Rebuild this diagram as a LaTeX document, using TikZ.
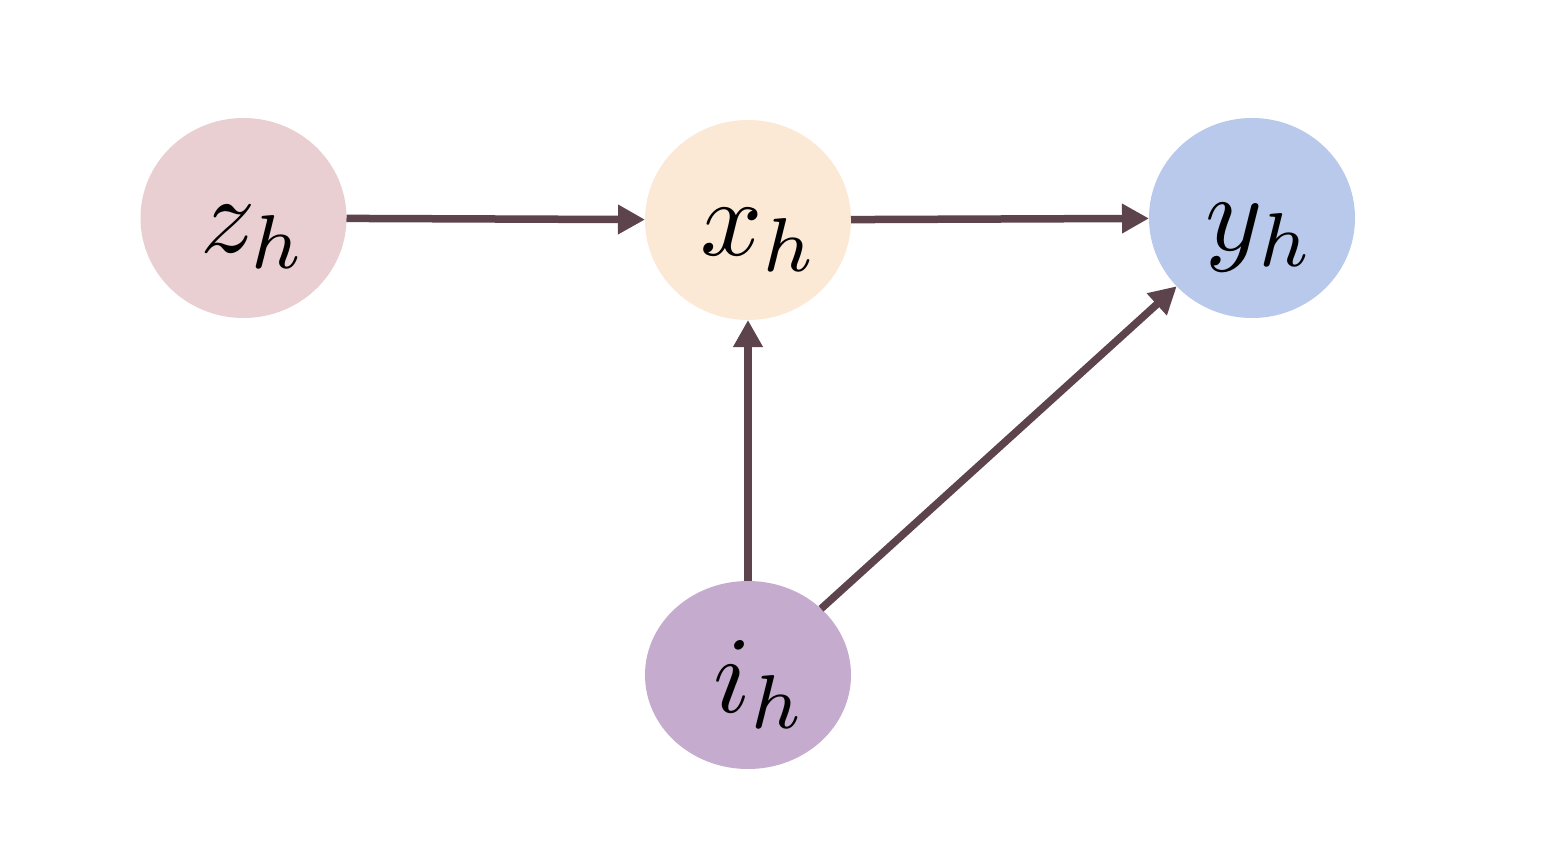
\documentclass[tikz,border=0pt]{standalone}
\usepackage{graphicx}
\usetikzlibrary{arrows.meta,shapes.geometric}
\definecolor{zcol}{HTML}{EACFD2}
\definecolor{xcol}{HTML}{FBE8D5}
\definecolor{ycol}{HTML}{B8C9EB}
\definecolor{icol}{HTML}{C5ABCD}
\definecolor{arrcol}{HTML}{5C434C}
\newcommand{\biglab}[1]{\scalebox{10.9}{$#1$}}
\tikzset{
  varnode/.style={ellipse, draw=none, minimum width=206pt, minimum height=200pt, inner sep=0pt, outer sep=0pt},
  varlabel/.style={anchor=base west, inner sep=0pt},
  conn/.style={draw=arrcol, line width=7.5pt, -{Triangle[length=27pt,width=28pt]}}
}
\begin{document}
\begin{tikzpicture}[x=1pt,y=-1pt]
\useasboundingbox[fill=white] (0,0) rectangle (1558,854);
\node[varnode, fill=zcol] (z) at (243.5,218) {};
\node[varnode, fill=xcol] (x) at (748,220) {};
\node[varnode, fill=ycol] (y) at (1252,218) {};
\node[varnode, fill=icol, minimum height=188pt] (i) at (748,675) {};
\node[varlabel] (zl) at (200,252) {\biglab{z_h}};
\node[varlabel] (xl) at (700,255) {\biglab{x_h}};
\node[varlabel] (yl) at (1205,250) {\biglab{y_h}};
\node[varlabel] (il) at (713,712) {\biglab{i_h}};
\draw[conn] (z) -- (x);
\draw[conn] (x) -- (y);
\draw[conn] (i) -- (x);
\draw[conn] (i) -- (y);
\end{tikzpicture}
\end{document}
